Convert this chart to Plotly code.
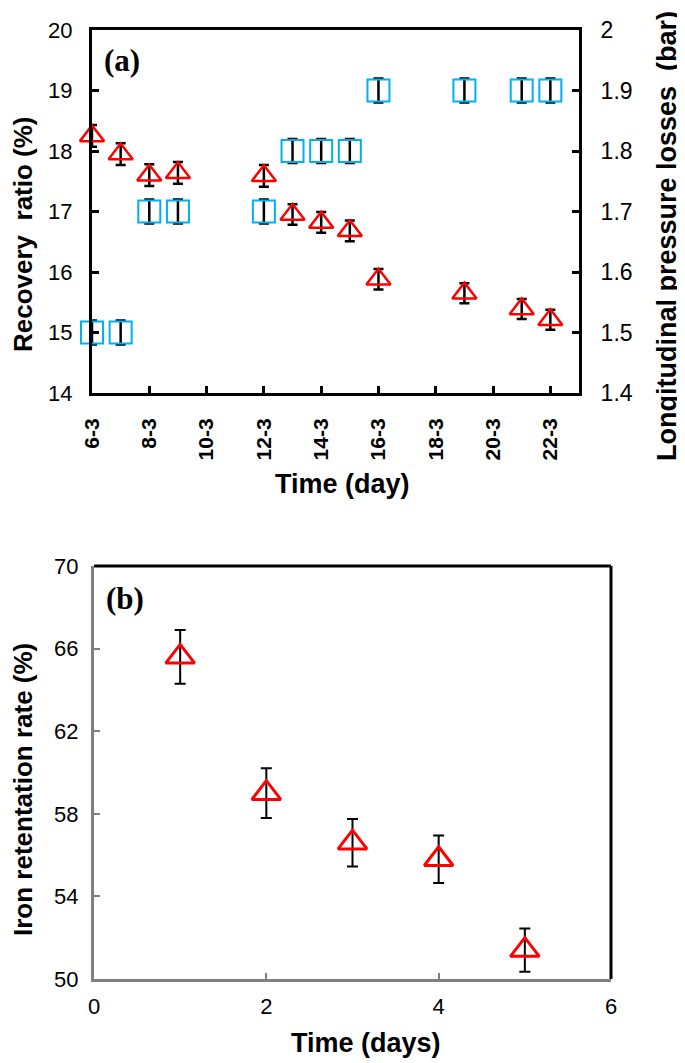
import plotly.graph_objects as go

# ---------------- data: panel (a) ----------------
day_num = [6, 7, 8, 9, 12, 13, 14, 15, 16, 19, 21, 22]
recovery_ratio = [18.25, 17.95, 17.60, 17.64, 17.59, 16.95, 16.82, 16.68, 15.88, 15.65, 15.39, 15.21]
recovery_err = [0.18, 0.18, 0.18, 0.18, 0.18, 0.17, 0.17, 0.17, 0.17, 0.165, 0.165, 0.165]
pressure_loss = [1.5, 1.5, 1.7, 1.7, 1.7, 1.8, 1.8, 1.8, 1.9, 1.9, 1.9, 1.9]
pressure_err = [0.02, 0.02, 0.02, 0.02, 0.02, 0.02, 0.02, 0.02, 0.02, 0.02, 0.02, 0.02]
xtick_vals = [6, 8, 10, 12, 14, 16, 18, 20, 22]
xtick_text = ["6-3", "8-3", "10-3", "12-3", "14-3", "16-3", "18-3", "20-3", "22-3"]
y_left_ticks = [14, 15, 16, 17, 18, 19, 20]
y_right_ticks = [1.4, 1.5, 1.6, 1.7, 1.8, 1.9, 2.0]
y_right_text = ["1.4", "1.5", "1.6", "1.7", "1.8", "1.9", "2"]

# ---------------- data: panel (b) ----------------
iron_days = [1, 2, 3, 4, 5]
iron_retention = [65.6, 59.0, 56.6, 55.8, 51.4]
iron_err = [1.3, 1.2, 1.15, 1.15, 1.05]
yb_ticks = [50, 54, 58, 62, 66, 70]
xb_ticks = [0, 2, 4, 6]

# page is 685x1063; the HTML body has an 8px margin, so the figure is shifted by 8px
OFF = 8
W, H = 685 - OFF, 1063 - OFF
def fx(px):
    return (px - OFF) / W
def fy(py):
    return 1 - (py - OFF) / H

SANS = "Liberation Sans, Arial, sans-serif"
SERIF = "Liberation Serif, Times New Roman, serif"
RED = "#FF0000"
CYAN = "#00B0F0"
GREY = "#808080"

fig = go.Figure()

fig.add_trace(go.Scatter(
    x=day_num, y=recovery_ratio, mode="markers", xaxis="x", yaxis="y",
    marker=dict(symbol="triangle-up-open", size=21, color=RED, line=dict(width=2.5, color=RED)),
    error_y=dict(type="data", array=recovery_err, visible=True, color="black", thickness=2.5, width=5),
    cliponaxis=False, showlegend=False, name="Recovery ratio"))

fig.add_trace(go.Scatter(
    x=day_num, y=pressure_loss, mode="markers", xaxis="x", yaxis="y2",
    marker=dict(symbol="square-open", size=22, color=CYAN, line=dict(width=2, color=CYAN)),
    error_y=dict(type="data", array=pressure_err, visible=True, color="black", thickness=2.5, width=5),
    cliponaxis=False, showlegend=False, name="Pressure losses"))

fig.add_trace(go.Scatter(
    x=iron_days, y=iron_retention, mode="markers", xaxis="x2", yaxis="y3",
    marker=dict(symbol="triangle-up-open", size=25, color=RED, line=dict(width=3, color=RED)),
    error_y=dict(type="data", array=iron_err, visible=True, color="black", thickness=2, width=5.5),
    cliponaxis=False, showlegend=False, name="Iron retention"))

tick_font = dict(family=SANS, size=22, color="black")

fig.update_layout(
    template="none",
    width=W, height=H, margin=dict(l=0, r=0, t=0, b=0, autoexpand=False),
    paper_bgcolor="white", plot_bgcolor="white",
    xaxis=dict(domain=[fx(92), fx(579)], anchor="y", range=[6, 23], automargin=False,
               tickmode="array", tickvals=xtick_vals, ticktext=xtick_text, tickangle=-90,
               tickfont=dict(family=SANS, size=21, color="black", weight="bold"),
               ticks="inside", ticklen=7, tickwidth=2.5, tickcolor="black",
               showline=True, linecolor="black", linewidth=3, mirror=True,
               showgrid=False, zeroline=False, ticklabelstandoff=14),
    yaxis=dict(domain=[fy(393), fy(30)], anchor="x", range=[14, 20], automargin=False,
               tickmode="array", tickvals=y_left_ticks, tickfont=tick_font,
               ticks="inside", ticklen=7, tickwidth=2.5, tickcolor="black",
               showline=True, linecolor="black", linewidth=3,
               showgrid=False, zeroline=False, ticklabelstandoff=12),
    yaxis2=dict(domain=[fy(393), fy(30)], anchor="x", overlaying="y", side="right",
                range=[1.4, 2.0], automargin=False,
                tickmode="array", tickvals=y_right_ticks, ticktext=y_right_text,
                tickfont=dict(family=SANS, size=23, color="black"),
                ticks="inside", ticklen=7, tickwidth=2.5, tickcolor="black",
                showline=True, linecolor="black", linewidth=3,
                showgrid=False, zeroline=False, ticklabelstandoff=14),
    xaxis2=dict(domain=[fx(94), fx(611)], anchor="y3", range=[0, 6], automargin=False,
                tickmode="array", tickvals=xb_ticks, tickfont=tick_font,
                ticks="inside", ticklen=6, tickwidth=2, tickcolor=GREY,
                showline=True, linecolor=GREY, linewidth=3,
                showgrid=False, zeroline=False, ticklabelstandoff=6),
    yaxis3=dict(domain=[fy(979), fy(566)], anchor="x2", range=[50, 70], automargin=False,
                tickmode="array", tickvals=yb_ticks, tickfont=tick_font,
                ticks="inside", ticklen=6, tickwidth=2, tickcolor=GREY,
                showline=True, linecolor=GREY, linewidth=3,
                showgrid=False, zeroline=False, ticklabelstandoff=8),
)

# black top and right frame lines of panel (b)
fig.add_shape(type="line", xref="x2 domain", yref="y3 domain", x0=0, x1=1, y0=1, y1=1,
              line=dict(color="black", width=3))
fig.add_shape(type="line", xref="x2 domain", yref="y3 domain", x0=1, x1=1, y0=0, y1=1,
              line=dict(color="black", width=3))

title_font = dict(family=SANS, size=27, color="black", weight="bold")
side_font = dict(family=SANS, size=26, color="black", weight="bold")
annots = [
    dict(text="Recovery  ratio (%)", x=fx(23), y=fy(234), textangle=-90, font=side_font),
    dict(text="Longitudinal pressure losses  (bar)", x=fx(667), y=fy(236), textangle=-90, font=title_font),
    dict(text="Time (day)", x=fx(342), y=fy(484), textangle=0, font=title_font),
    dict(text="Iron retentation rate (%)", x=fx(23), y=fy(790), textangle=-90, font=side_font),
    dict(text="Time (days)", x=fx(366), y=fy(1043), textangle=0, font=title_font),
]
for a in annots:
    fig.add_annotation(xref="paper", yref="paper", showarrow=False,
                       xanchor="center", yanchor="middle", **a)

panel_font = dict(family=SERIF, size=31, color="black", weight="bold")
fig.add_annotation(text="(a)", xref="paper", yref="paper", x=fx(102), y=fy(61),
                   xanchor="left", yanchor="middle", showarrow=False, font=panel_font)
fig.add_annotation(text="(b)", xref="paper", yref="paper", x=fx(104), y=fy(598),
                   xanchor="left", yanchor="middle", showarrow=False, font=panel_font)

fig.write_html("out.html")
